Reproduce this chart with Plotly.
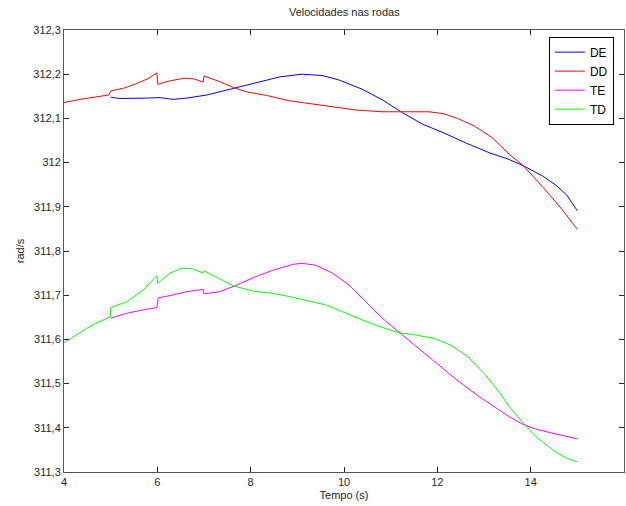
import plotly.graph_objects as go

# DE (blue)
de_x = [5.0, 5.2, 5.77, 6.06, 6.34, 6.63, 7.06, 7.63, 8.2, 8.63, 9.1, 9.53, 9.89, 10.39, 10.82,
        11.25, 11.68, 12.12, 12.62, 13.12, 13.54, 13.86, 14.25, 14.54, 14.77, 15.0]
de_y = [312.148, 312.145, 312.146, 312.147, 312.143, 312.146, 312.153, 312.168, 312.183, 312.194,
        312.2, 312.197, 312.187, 312.166, 312.142, 312.113, 312.087, 312.068, 312.044, 312.022,
        312.007, 311.992, 311.97, 311.949, 311.927, 311.891]

# DD (red)
dd_x = [4.0, 4.34, 4.96, 5.0, 5.3, 5.54, 5.8, 5.99, 6.01, 6.27, 6.59, 6.8, 6.98, 7.0, 7.34, 7.63,
        7.91, 8.34, 8.82, 9.53, 10.25, 10.82, 11.25, 11.82, 12.12, 12.43, 12.79, 13.17, 13.54,
        13.86, 14.25, 14.68, 15.0]
dd_y = [312.136, 312.143, 312.153, 312.162, 312.169, 312.178, 312.19, 312.203, 312.177, 312.185,
        312.191, 312.189, 312.182, 312.196, 312.183, 312.170, 312.160, 312.152, 312.140, 312.130,
        312.119, 312.115, 312.115, 312.115, 312.111, 312.100, 312.083, 312.057, 312.019, 311.991,
        311.946, 311.893, 311.849]

# TE (magenta)
te_x = [5.0, 5.34, 5.7, 5.99, 6.02, 6.27, 6.63, 6.98, 7.0, 7.34, 7.68, 8.06, 8.49, 8.91, 9.1,
        9.39, 9.75, 10.11, 10.47, 10.82, 11.25, 11.68, 11.99, 12.42, 12.85, 13.21, 13.54, 13.83,
        14.11, 14.54, 15.0]
te_y = [311.648, 311.659, 311.667, 311.672, 311.694, 311.699, 311.708, 311.713, 311.703, 311.708,
        311.722, 311.74, 311.757, 311.77, 311.772, 311.768, 311.75, 311.723, 311.685, 311.648,
        311.61, 311.572, 311.546, 311.508, 311.474, 311.448, 311.425, 311.408, 311.397, 311.386,
        311.375]

# TD (green)
td_x = [4.0, 4.34, 4.63, 4.99, 5.0, 5.34, 5.7, 5.99, 6.01, 6.27, 6.53, 6.75, 6.98, 7.0, 7.34,
        7.63, 8.06, 8.49, 8.82, 9.25, 9.61, 9.96, 10.39, 10.82, 11.18, 11.54, 11.93, 12.29, 12.65,
        13.0, 13.29, 13.54, 13.83, 14.11, 14.47, 14.77, 15.0]
td_y = [311.593, 311.616, 311.634, 311.651, 311.672, 311.685, 311.712, 311.744, 311.727, 311.75,
        311.761, 311.76, 311.75, 311.755, 311.737, 311.721, 311.709, 311.704, 311.697, 311.687,
        311.678, 311.663, 311.644, 311.627, 311.615, 311.61, 311.602, 311.587, 311.561, 311.523,
        311.486, 311.448, 311.412, 311.38, 311.35, 311.331, 311.323]

x_ticks = [4, 6, 8, 10, 12, 14, 16]
y_ticks = [311.3, 311.4, 311.5, 311.6, 311.7, 311.8, 311.9, 312.0, 312.1, 312.2, 312.3]
y_tick_text = ["311,3", "311,4", "311,5", "311,6", "311,7", "311,8", "311,9", "312",
               "312,1", "312,2", "312,3"]

series = [
    ("DE", de_x, de_y, "#0000ff"),
    ("DD", dd_x, dd_y, "#ff0000"),
    ("TE", te_x, te_y, "#ff00ff"),
    ("TD", td_x, td_y, "#00ff00"),
]

fig = go.Figure()
for name, xs, ys, col in series:
    fig.add_trace(go.Scatter(x=xs, y=ys, name=name, mode="lines",
                             line=dict(color=col, width=1)))

font = dict(family="Liberation Sans, Arial, sans-serif", size=11, color="#262626")

axis_common = dict(showgrid=False, zeroline=False, ticks="inside", ticklen=5,
                   tickcolor="#262626", showline=True, linecolor="#555555", linewidth=1,
                   mirror="ticks", tickfont=font)

fig.update_layout(
    width=626, height=506,
    margin=dict(l=64, r=2, t=30, b=34),
    paper_bgcolor="white", plot_bgcolor="white",
    separators=",.",
    font=font,
    title=dict(text="Velocidades nas rodas", x=0.55, xanchor="center",
               y=0.976, yanchor="middle", font=font),
    xaxis=dict(range=[4, 16], tickmode="array", tickvals=x_ticks,
               ticktext=[str(v) for v in x_ticks],
               title=dict(text="Tempo (s)", font=font, standoff=4), **axis_common),
    yaxis=dict(range=[311.3, 312.3], tickmode="array", tickvals=y_ticks, ticktext=y_tick_text,
               title=dict(text="rad/s", font=font, standoff=6), **axis_common),
    legend=dict(x=0.982, y=0.985, xanchor="right", yanchor="top",
                bordercolor="black", borderwidth=1, bgcolor="white",
                font=dict(family="Liberation Sans, Arial, sans-serif", size=12, color="black"),
                itemwidth=30, tracegroupgap=0),
    showlegend=True,
)

fig.write_html("out.html")
